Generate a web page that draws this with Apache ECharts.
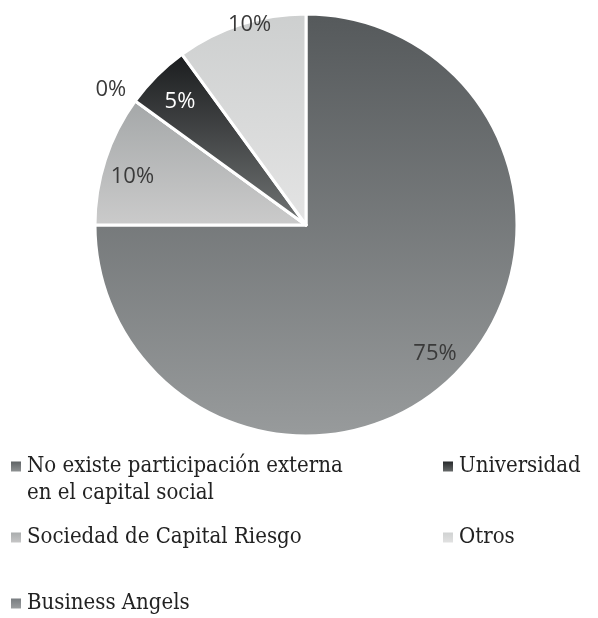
<!DOCTYPE html>
<html lang="es">

<head>
  <meta charset="UTF-8">
  <title>Participación externa en el capital social</title>
  <script src="https://cdn.jsdelivr.net/npm/echarts@6/dist/echarts.min.js"></script>
  <style>
    body { margin: 0; background: #fff; }
  </style>
</head>

<body>
  <div id="main" style="width: 598px; height: 618px"></div>

  <script>
    // datos (orden de las porciones, en sentido horario desde arriba)
    let names = ['No existe participación externa en el capital social', 'Sociedad de Capital Riesgo', 'Business Angels', 'Universidad', 'Otros']
    let values = [75, 10, 0, 5, 10]

    // degradado vertical de cada porción (arriba -> abajo)
    let topColors = ['#55595b', '#a4a7a8', '#72767a', '#1a1c1e', '#cdcfcf']
    let bottomColors = ['#989b9c', '#cbcbcb', '#a2a5a6', '#727575', '#e4e4e4']

    let dom = document.getElementById('main')
    let myChart = echarts.init(dom)

    function grad(i) {
      return new echarts.graphic.LinearGradient(0, 0, 0, 1, [
        { offset: 0, color: topColors[i] },
        { offset: 1, color: bottomColors[i] }
      ])
    }

    let labelFont = { fontFamily: 'Open Sans', fontSize: 22, color: '#3a3a3a' }

    // porciones
    let mainData = names.map((n, i) => ({
      name: n,
      value: values[i],
      itemStyle: { color: grad(i) },
      // la porción de 0% lleva su etiqueta fuera
      label: values[i] === 0 ? Object.assign({ show: true, position: 'outside', formatter: '{c}%' }, labelFont) : { show: false }
    }))

    // serie transparente solo para colocar las etiquetas hacia el borde
    let labelData = names.map((n, i) => ({
      name: n,
      value: values[i],
      label: {
        show: values[i] !== 0,
        color: i === 3 ? '#ffffff' : '#3a3a3a'
      }
    }))

    let legendText = { fontFamily: ['DejaVu Serif Condensed', 'DejaVu Serif'], fontSize: 22, color: '#222', lineHeight: 27 }

    function legendAt(name, left, top, extra) {
      return Object.assign({
        data: [name],
        left: left,
        top: top,
        padding: 0,
        icon: 'rect',
        itemWidth: 12,
        itemHeight: 12,
        selectedMode: false,
        textStyle: legendText
      }, extra || {})
    }

    let option = {
      animation: false,
      legend: [
        // línea vacía arriba para que la primera línea quede a la altura del icono
        legendAt(names[0], 9, 426, {
          formatter: s => ' \n' + s.replace(' en el', '\nen el')
        }),
        legendAt(names[1], 9, 524),
        legendAt(names[2], 9, 590),
        legendAt(names[3], 441, 453),
        legendAt(names[4], 441, 524)
      ],
      series: [{
          type: 'pie',
          center: [306, 225],
          radius: 211,
          startAngle: 90,
          clockwise: true,
          itemStyle: { borderColor: '#ffffff', borderWidth: 3 },
          labelLine: { show: false, length: 15, length2: 0 },
          labelLayout: p => (p.dataIndex === 2 ? { dx: 8, dy: -2 } : {}),
          emphasis: { disabled: true },
          data: mainData
        },
        {
          type: 'pie',
          center: [306, 225],
          radius: [148, 211],
          startAngle: 90,
          clockwise: true,
          silent: true,
          legendHoverLink: false,
          itemStyle: { color: 'rgba(0,0,0,0)' },
          label: Object.assign({ show: true, position: 'inside', formatter: '{c}%' }, labelFont),
          labelLine: { show: false },
          // Otros: etiqueta pegada al borde, como en el original
          labelLayout: p => (p.dataIndex === 4 ? { dy: -27 } : p.dataIndex === 1 ? { dy: 8 } : p.dataIndex === 3 ? { dx: 3, dy: 6 } : {}),
          data: labelData
        }
      ]
    }
    myChart.setOption(option)
  </script>
</body>

</html>
